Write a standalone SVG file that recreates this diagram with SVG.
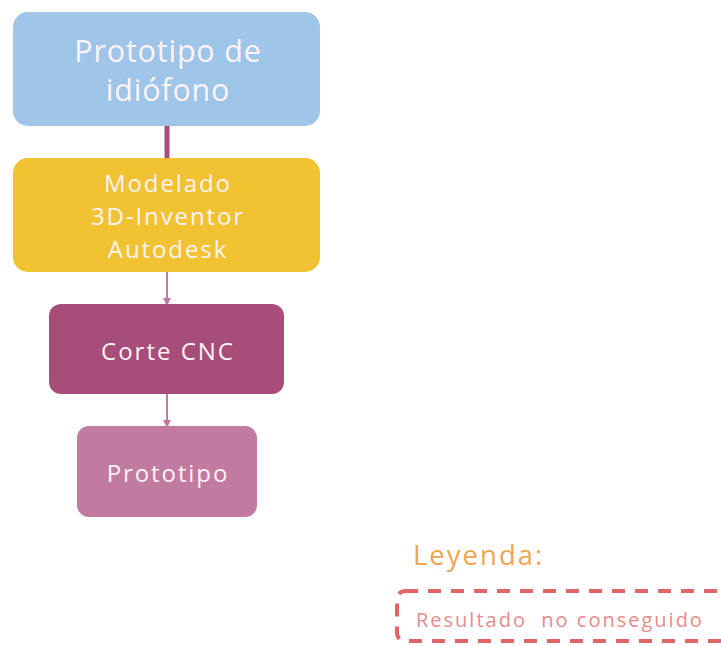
<svg xmlns="http://www.w3.org/2000/svg" width="721" height="646" viewBox="0 0 721 646">
<style>
.t{font-family:"Open Sans","Liberation Sans",sans-serif;font-weight:500;fill:#fdf3f6;text-anchor:middle}
.c{stroke:#c27ba0;stroke-width:2;fill:none}
</style>
<defs>
<marker id="ah" markerWidth="8" markerHeight="8" refX="4" refY="4" orient="auto" markerUnits="userSpaceOnUse">
<path d="M0,0 L8,4 L0,8 z" fill="#c27ba0"/>
</marker>
</defs>
<rect width="721" height="646" fill="#fff"/>
<g id="connectors">
<line x1="167" y1="126" x2="167" y2="158" stroke="#a64d79" stroke-width="5"/>
<line class="c" x1="167" y1="272" x2="167" y2="302" marker-end="url(#ah)"/>
<line class="c" x1="167" y1="394" x2="167" y2="424" marker-end="url(#ah)"/>
</g>
<g id="n1">
<rect x="13" y="12" width="307" height="114" rx="15" fill="#9fc5e8"/>
<text class="t" x="168" y="62" font-size="30.5" letter-spacing="0.8">Prototipo de</text>
<text class="t" x="168" y="101" font-size="30.5" letter-spacing="0.8">idiófono</text>
</g>
<g id="n2">
<rect x="13" y="158" width="307" height="114" rx="15" fill="#f1c232"/>
<text class="t" x="168" y="192" font-size="24" letter-spacing="1.9">Modelado</text>
<text class="t" x="168" y="225" font-size="24" letter-spacing="1.9">3D-Inventor</text>
<text class="t" x="168" y="258" font-size="24" letter-spacing="1.9">Autodesk</text>
</g>
<g id="n3">
<rect x="49" y="304" width="235" height="90" rx="12" fill="#a64d79"/>
<text class="t" x="168" y="360" font-size="24" letter-spacing="2">Corte CNC</text>
</g>
<g id="n4">
<rect x="77" y="426" width="180" height="91" rx="12" fill="#c27ba0"/>
<text class="t" x="168" y="482" font-size="24" letter-spacing="1.9">Prototipo</text>
</g>
<g id="legend">
<text x="413" y="565" font-family="Open Sans,Liberation Sans,sans-serif" font-weight="500" font-size="27.5" letter-spacing="2" fill="#eda653">Leyenda:</text>
<rect x="397" y="591" width="340" height="50" rx="8" fill="none" stroke="#e06666" stroke-width="4" stroke-dasharray="13,10"/>
<text x="416" y="627" font-family="Open Sans,Liberation Sans,sans-serif" font-weight="500" font-size="20" letter-spacing="2" fill="#e88a8a" xml:space="preserve">Resultado  no conseguido</text>
</g>
</svg>
